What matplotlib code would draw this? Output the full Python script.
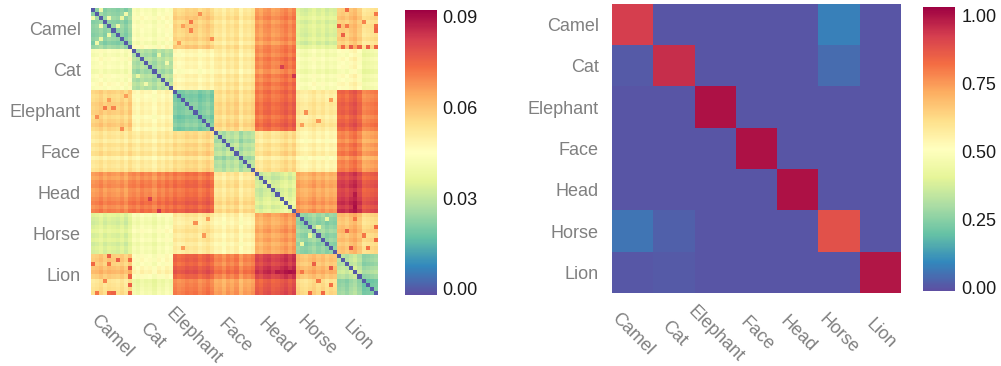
import numpy as np
import matplotlib.pyplot as plt

plt.rcParams['font.family'] = ['Liberation Sans', 'DejaVu Sans']

classes = ["Camel", "Cat", "Elephant", "Face", "Head", "Horse", "Lion"]
n_per_class = 10

# mean distance between classes (left panel)
block_dist = np.array([
    [0.021, 0.042, 0.055, 0.051, 0.066, 0.033, 0.055],
    [0.042, 0.026, 0.046, 0.050, 0.069, 0.041, 0.042],
    [0.055, 0.046, 0.019, 0.054, 0.072, 0.050, 0.072],
    [0.051, 0.050, 0.054, 0.027, 0.052, 0.047, 0.067],
    [0.066, 0.069, 0.072, 0.052, 0.032, 0.063, 0.079],
    [0.033, 0.041, 0.050, 0.047, 0.063, 0.022, 0.057],
    [0.055, 0.042, 0.072, 0.067, 0.079, 0.057, 0.024],
])

# per-sample shift (row/column stripes)
sample_shift = np.array([
    0.000, 0.001, 0.003, 0.000, 0.002, 0.001, 0.000, 0.002, -0.001, 0.003,
    0.001, -0.001, 0.002, 0.000, 0.001, -0.002, 0.002, 0.000, 0.003, 0.001,
    0.001, -0.001, 0.000, 0.002, 0.001, 0.002, -0.001, 0.001, 0.003, 0.000,
    0.000, 0.001, -0.002, 0.002, 0.000, 0.003, -0.003, 0.001, 0.000, 0.002,
    0.000, -0.002, 0.001, 0.002, -0.001, 0.000, 0.002, 0.004, 0.001, 0.004,
    0.002, 0.000, -0.001, 0.001, 0.003, 0.000, 0.002, -0.001, 0.001, 0.000,
    0.002, 0.003, 0.001, 0.004, 0.006, 0.002, -0.004, -0.003, -0.002, -0.001,
])

# individual cells that stand out (i, j, value)
hot_cells = [
    (1, 26, 0.068), (3, 24, 0.072), (5, 24, 0.070), (7, 29, 0.069), (4, 22, 0.066), (8, 21, 0.066),
    (0, 62, 0.074), (1, 69, 0.072), (3, 66, 0.070), (4, 60, 0.076), (4, 62, 0.072), (4, 69, 0.074),
    (5, 69, 0.075), (6, 61, 0.076), (9, 61, 0.074), (9, 63, 0.077), (9, 65, 0.075), (9, 67, 0.076),
    (9, 69, 0.075),
    (53, 69, 0.074), (54, 62, 0.076), (55, 66, 0.072), (56, 69, 0.074), (58, 63, 0.078),
    (58, 67, 0.073), (51, 64, 0.072),
    (22, 58, 0.066), (25, 52, 0.068), (27, 55, 0.067), (28, 51, 0.066),
    (0, 2, 0.040), (2, 7, 0.038), (2, 4, 0.041), (4, 6, 0.039), (1, 8, 0.040),
    (11, 16, 0.038), (13, 18, 0.040),
    (48, 64, 0.090), (45, 64, 0.088), (47, 63, 0.087),
    (14, 46, 0.082), (16, 49, 0.084),
    (51, 57, 0.038), (53, 55, 0.037),
]

# normalised confusion matrix (right panel)
confusion = np.array([
    [0.92, 0.00, 0.00, 0.00, 0.00, 0.08, 0.00],
    [0.01, 0.95, 0.00, 0.00, 0.00, 0.04, 0.00],
    [0.00, 0.00, 1.00, 0.00, 0.00, 0.00, 0.00],
    [0.00, 0.00, 0.00, 1.00, 0.00, 0.00, 0.00],
    [0.00, 0.00, 0.00, 0.00, 1.00, 0.00, 0.00],
    [0.06, 0.02, 0.00, 0.00, 0.00, 0.88, 0.00],
    [0.005, 0.01, 0.00, 0.00, 0.00, 0.00, 0.99],
])

labels = np.repeat(np.arange(len(classes)), n_per_class)
dist = block_dist[labels][:, labels] + sample_shift[:, None] + sample_shift[None, :]
for i, j, v in hot_cells:
    dist[i, j] = v
    dist[j, i] = v
np.fill_diagonal(dist, 0)

W, H = 1001, 366
fig = plt.figure(figsize=(W / 100, H / 100), dpi=100)
ax1 = fig.add_axes([91 / W, 71 / H, 287 / W, 287 / H])
cax1 = fig.add_axes([405 / W, 71 / H, 32 / W, 285 / H])
ax2 = fig.add_axes([612 / W, 73 / H, 289 / W, 289 / H])
cax2 = fig.add_axes([923 / W, 75 / H, 32 / W, 284 / H])

gray = '#808080'
fs = 13

im1 = ax1.imshow(dist, cmap='Spectral_r', vmin=-0.002, vmax=0.0923,
                 aspect='auto', interpolation='nearest')
im2 = ax2.imshow(confusion, cmap='Spectral_r', vmin=-0.013, vmax=1.03,
                 aspect='auto', interpolation='nearest')

centers1 = np.arange(len(classes)) * n_per_class + (n_per_class - 1) / 2
centers2 = np.arange(len(classes))

for ax, centers, ypad in [(ax1, centers1, 7.4), (ax2, centers2, 9.4)]:
    ax.set_yticks(centers, classes, fontsize=fs, color=gray)
    ax.set_xticks(centers, classes, fontsize=fs, color=gray, rotation=-45,
                  ha='center', va='center', rotation_mode='anchor')
    ax.tick_params(axis='y', length=0, pad=ypad)
    ax.tick_params(axis='x', length=0, pad=29.5)
    for s in ax.spines.values():
        s.set_visible(False)

cb1 = fig.colorbar(im1, cax=cax1, ticks=[0, 0.03, 0.06, 0.09], format='%.2f')
cb2 = fig.colorbar(im2, cax=cax2, ticks=[0, 0.25, 0.5, 0.75, 1.0], format='%.2f')
for cb, pad in [(cb1, 4), (cb2, 4.8)]:
    cb.outline.set_visible(False)
    cb.ax.tick_params(length=0, pad=pad, labelsize=fs, labelcolor='#1a1a1a')

fig.savefig('out.png', dpi=100)
